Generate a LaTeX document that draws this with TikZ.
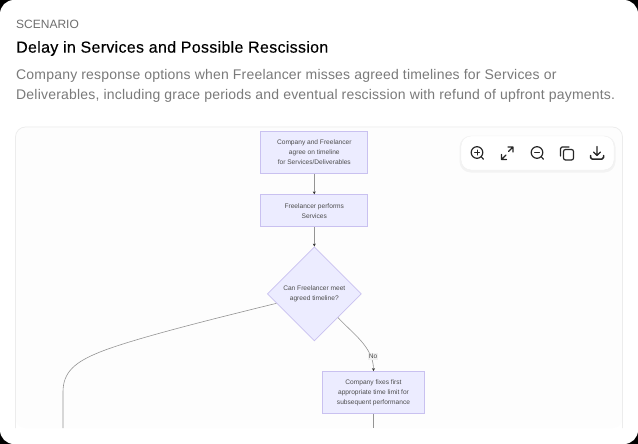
\documentclass[tikz,border=0pt]{standalone}
\usepackage{fontspec}
\setmainfont{Liberation Sans}
\newfontfamily\headfont[FakeBold=0.25,LetterSpace=1.9]{Liberation Sans}
\newfontfamily\leadfont[LetterSpace=1.4]{Liberation Sans}
\newfontfamily\flowfont{Liberation Sans}
\usetikzlibrary{arrows.meta}
\usetikzlibrary{positioning}
\usetikzlibrary{shapes.geometric}
\definecolor{boxfill}{HTML}{ECECFF}
\definecolor{boxedge}{HTML}{C9C1F0}
\definecolor{edgeink}{HTML}{949494}
\definecolor{leadgray}{HTML}{7A7A7A}
\definecolor{kickergray}{HTML}{6E6E6E}
\definecolor{panelfill}{HTML}{FDFDFD}
\definecolor{paneledge}{HTML}{ECECEC}

\begin{document}
\begin{tikzpicture}[x=1pt,y=-1pt]

\tikzset{
	textline/.style={anchor=west, inner sep=0pt},
	stepbox/.style={draw=boxedge, fill=boxfill, line width=0.7pt, align=center, inner sep=0pt, font=\flowfont\fontsize{6.6}{10}\selectfont, text=black!70},
	choicebox/.style={stepbox, shape=diamond, minimum width=94pt, minimum height=94pt},
	flowline/.style={draw=edgeink, line width=0.6pt},
	flowarrow/.style={flowline, -{Stealth[length=3pt,width=3pt,color=black!80]}},
	edgetag/.style={fill=black!6, inner sep=0.8pt, font=\flowfont\fontsize{6.6}{8}\selectfont, text=black!70},
	toolicon/.style={draw=black!85, line width=1.2pt, line cap=round, line join=round}
}

\useasboundingbox (0,0) rectangle (638,444);
\fill[black] (0,0) rectangle (638,444);
\fill[white, rounded corners=14pt] (0,0) rectangle (638,444);

\fill[panelfill, rounded corners=10pt] (15.5,428) -- (15.5,127) -- (622.5,127) -- (622.5,428) -- cycle;
\draw[paneledge, line width=0.7pt, rounded corners=10pt] (15.5,428) -- (15.5,127) -- (622.5,127) -- (622.5,428);

\node[textline, text=kickergray, font=\flowfont\fontsize{12}{14}\selectfont] (kicker) at (16,24) {SCENARIO};
\node[textline, text=black, font=\headfont\fontsize{16}{18}\selectfont] (title) at (16,48.5) {Delay in Services and Possible Rescission};
\node[textline, text=leadgray, font=\leadfont\fontsize{14}{16}\selectfont] (leadone) at (16,75.5) {Company response options when Freelancer misses agreed timelines for Services or};
\node[textline, text=leadgray, font=\leadfont\fontsize{14}{16}\selectfont] (leadtwo) at (16,95.5) {Deliverables, including grace periods and eventual rescission with refund of upfront payments.};

\node[stepbox, minimum width=107pt, minimum height=42pt] (agree) at (314.3,152.5) {Company and Freelancer\\agree on timeline\\for Services/Deliverables};
\node[stepbox, minimum width=107pt, minimum height=32pt, below=20.5pt of agree] (perform) {Freelancer performs\\Services};
\node[choicebox, below=19.5pt of perform] (meet) {Can Freelancer meet\\agreed timeline?};
\node[stepbox, minimum width=102pt, minimum height=42pt] (fix) at (373.5,392.5) {Company fixes first\\appropriate time limit for\\subsequent performance};

\coordinate (fixend) at (373.5,428);
\coordinate (leftend) at (63,428);

\draw[flowarrow] (agree) -- (perform);
\draw[flowarrow] (perform) -- (meet);
\draw[flowarrow] (meet.south east) .. controls (352,333) and (373.5,347) .. node[edgetag, pos=0.78, xshift=2.5pt] (notag) {No} (fix.north);
\draw[flowline] (fix) -- (fixend);
\draw[flowline] (meet.194.6) .. controls (200,322) and (130,340) .. (100,352) .. controls (75,362) and (63,372) .. (63,392) -- (leftend);

\fill[black, opacity=0.04, rounded corners=11pt] (459.5,136) rectangle (615.5,172.5);
\node[draw=black!6, fill=white, rounded corners=10pt, minimum width=153pt, minimum height=34pt, inner sep=0pt] (toolbar) at (537.5,153) {};

\draw[toolicon] (477,152.5) circle (5.8) (481.2,156.8) -- (483.5,159.2);
\draw[toolicon, line width=1pt] (474.5,152.5) -- (479.5,152.5) (477,150) -- (477,155);

\draw[toolicon] (501.5,159.5) -- (506,155) (501.5,154.5) -- (501.5,159.5) -- (506.5,159.5);
\draw[toolicon] (513,147) -- (508.5,151.5) (508,147) -- (513,147) -- (513,152);

\draw[toolicon] (537,152.5) circle (5.8) (541.2,156.8) -- (543.5,159.2);
\draw[toolicon, line width=1pt] (534.5,152.5) -- (539.5,152.5);

\draw[toolicon, rounded corners=1.5pt] (560.5,156) -- (560.5,147) -- (569,147);
\draw[toolicon, rounded corners=2pt] (563.5,149.5) rectangle (573.5,160);

\draw[toolicon] (597,146.5) -- (597,155.5) (593.5,152) -- (597,155.5) -- (600.5,152);
\draw[toolicon, rounded corners=1.5pt, line width=1.5pt] (590.5,155.5) -- (590.5,159) -- (603.5,159) -- (603.5,155.5);

\end{tikzpicture}
\end{document}
